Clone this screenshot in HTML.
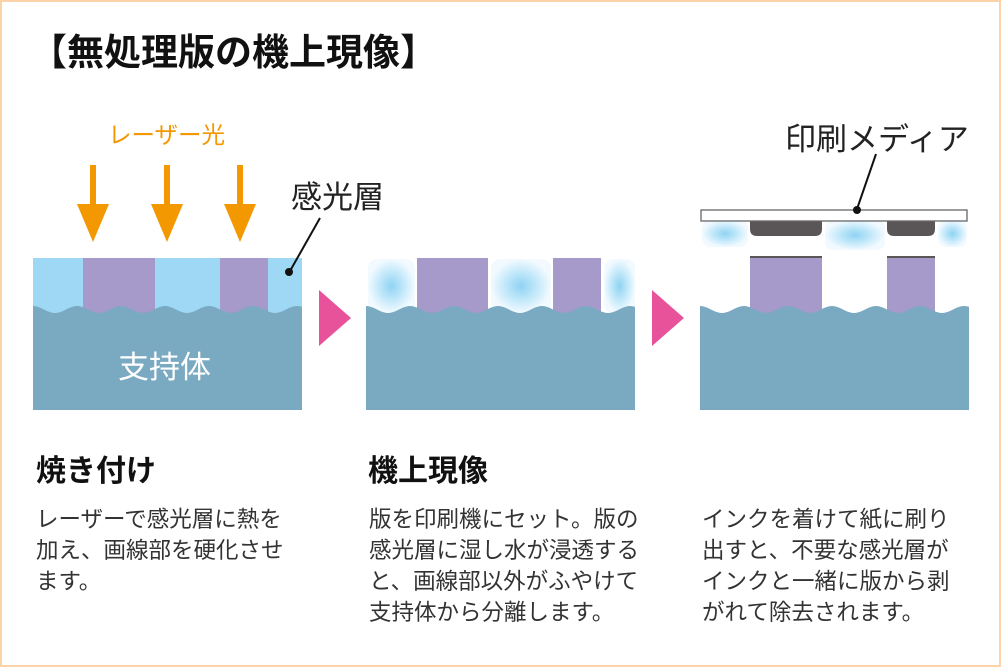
<!DOCTYPE html>
<html><head><meta charset="utf-8"><style>
html,body{margin:0;padding:0}
body{width:1001px;height:667px;position:relative;background:#fff;overflow:hidden;font-family:"Liberation Sans","Noto Sans CJK JP",sans-serif;color:#222}
.frame{position:absolute;left:0;top:0;width:997px;height:663px;border:2px solid #fbd3a6}
.t{position:absolute;white-space:nowrap}
.body{font-size:22.5px;line-height:31px;color:#333;white-space:normal}
</style></head><body>
<div class="frame"></div>
<svg id="s" width="1001" height="667" style="position:absolute;left:0;top:0">
<defs>
<radialGradient id="g"><stop offset="0" stop-color="#8fd3f3"/><stop offset="0.55" stop-color="#c4e9fa"/><stop offset="1" stop-color="#f2faff"/></radialGradient>
</defs>
<g id="w"></g>
</svg>
<div class="t" style="left:30px;top:22px;font-size:37px;font-weight:bold;color:#111">【無処理版の機上現像】</div>
<div class="t" style="left:108px;top:116px;font-size:23.5px;color:#f39800">レーザー光</div>
<div class="t" style="left:291px;top:172px;font-size:31px;color:#222">感光層</div>
<div class="t" style="left:118px;top:342px;font-size:31px;color:#fff">支持体</div>
<div class="t" style="left:785px;top:114px;font-size:31px;color:#222">印刷メディア</div>
<div class="t" style="left:36px;top:446px;font-size:30px;font-weight:bold;color:#111">焼き付け</div>
<div class="t" style="left:368px;top:446px;font-size:30px;font-weight:bold;color:#111">機上現像</div>
<div class="t body" style="left:36px;top:504px;width:300px">レーザーで感光層に熱を<br>加え、画線部を硬化させ<br>ます。</div>
<div class="t body" style="left:369px;top:504px;width:300px">版を印刷機にセット。版の<br>感光層に湿し水が浸透する<br>と、画線部以外がふやけて<br>支持体から分離します。</div>
<div class="t body" style="left:702px;top:504px;width:300px">インクを着けて紙に刷り<br>出すと、不要な感光層が<br>インクと一緒に版から剥<br>がれて除去されます。</div>
<script>
var g=document.getElementById('w'),h='';
function wave(x0,x1,top,bot){var p=44,a=3.5,y=top+3.5;function f(x){return (y-a*Math.cos((x-x0)/p*2*Math.PI)).toFixed(1);}var d='M'+x0+','+bot+' L'+x0+','+f(x0);for(var x=x0;x<x1;x+=2){d+=' L'+x+','+f(x);}d+=' L'+x1+','+f(x1)+' L'+x1+','+bot+' Z';return '<path d="'+d+'" fill="#7aaac2"/>';}
function rect(x,y,w,hh,f,r){return '<rect x="'+x+'" y="'+y+'" width="'+w+'" height="'+hh+'" fill="'+f+'"'+(r?' rx="'+r+'"':'')+'/>';}
h+=rect(33,258,269,60,'#9fd8f5');
h+=rect(83,258,72,60,'#a59ac9');h+=rect(220,258,48,60,'#a59ac9');
h+=wave(33,302,306,410);
[93,167,240].forEach(function(x){h+=rect(x-3,165,6,52,'#f39800');h+='<polygon points="'+(x-16)+',204 '+(x+16)+',204 '+x+',242" fill="#f39800"/>';});
h+='<line x1="320" y1="218" x2="290" y2="271" stroke="#111" stroke-width="2"/><circle cx="289" cy="272" r="4" fill="#111"/>';
h+='<polygon points="319,290 351,318 319,346" fill="#e8529a"/><polygon points="652,290 684,318 652,346" fill="#e8529a"/>';
[[368,259,47,54],[491,259,60,54],[604,259,31,54]].forEach(function(b){h+='<rect x="'+b[0]+'" y="'+b[1]+'" width="'+b[2]+'" height="'+b[3]+'" rx="9" fill="url(#g)"/>';});
h+=rect(417,258,71,60,'#a59ac9');h+=rect(553,258,48,60,'#a59ac9');
h+=wave(366,635,306,410);
h+=rect(750,256,72,60,'#a59ac9');h+=rect(887,256,48,60,'#a59ac9');
h+=rect(750,256,72,2,'#5a5658');h+=rect(887,256,48,2,'#5a5658');
h+=wave(700,969,306,410);
[[702,220,46,27],[825,220,60,30],[938,220,29,27]].forEach(function(b){h+='<rect x="'+b[0]+'" y="'+b[1]+'" width="'+b[2]+'" height="'+b[3]+'" rx="8" fill="url(#g)"/>';});
h+='<path d="M750,220 H822 V229 Q822,236 815,236 H757 Q750,236 750,229 Z" fill="#5a5658"/>';
h+='<path d="M887,220 H935 V229 Q935,236 928,236 H894 Q887,236 887,229 Z" fill="#5a5658"/>';
h+='<rect x="701" y="210" width="266" height="11" fill="#fff" stroke="#666" stroke-width="1.3"/>';
h+='<line x1="876" y1="154" x2="857" y2="209" stroke="#111" stroke-width="2"/><circle cx="857" cy="210" r="4" fill="#111"/>';
g.innerHTML=h;
</script>
</body></html>
